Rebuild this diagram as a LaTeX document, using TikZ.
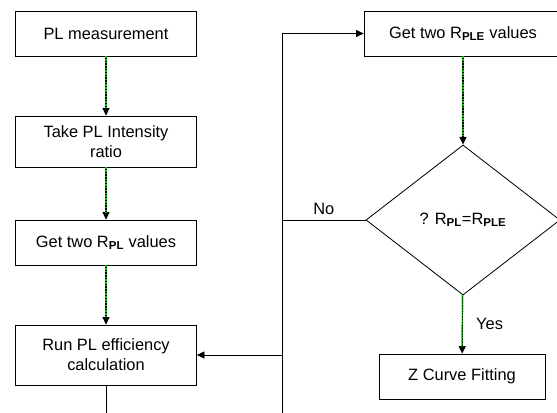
\documentclass[tikz,border=0pt]{standalone}
\usepackage{fontspec}
\setmainfont{Liberation Sans}
\usetikzlibrary{arrows.meta,shapes.geometric}
\newcommand{\Rsub}[1]{R\textsubscript{\textbf{#1}}}

\begin{document}
\begin{tikzpicture}[line cap=butt,line join=miter,x=0.03cm,y=-0.03cm,
  font=\fontsize{14}{17}\selectfont,
  >={Triangle[length=6.5pt,width=6pt]},
  stepbox/.style={draw,line width=0.6pt,align=center,inner sep=2pt},
  flow/.style={->,draw=black,line width=1pt,
    postaction={draw=green!75!black,line width=1pt,dash pattern=on 1.2pt off 1.2pt,shorten >=6pt,-}},
  wire/.style={draw=black,line width=0.7pt}]
\useasboundingbox (0,0) rectangle (557,412);
\clip (0,0) rectangle (557,412);
% left column
\node[stepbox,minimum width=5.43cm,minimum height=1.35cm] (meas) at (106,33.5) {PL measurement};
\node[stepbox,minimum width=5.43cm,minimum height=1.53cm] (ratio) at (106,141.5) {Take PL Intensity\\ratio};
\node[stepbox,minimum width=5.43cm,minimum height=1.35cm] (rpl) at (106,242.5) {Get two \Rsub{PL} values};
\node[stepbox,minimum width=5.43cm,minimum height=1.8cm] (run) at (106,355) {Run PL efficiency\\calculation};
% right column
\node[stepbox,minimum width=5.94cm,minimum height=1.35cm] (rple) at (463,33.5) {Get two \Rsub{PLE} values};
\node[draw,diamond,line width=0.7pt,inner sep=0pt,minimum width=5.82cm,minimum height=4.5cm] (same) at (463,220) {? \Rsub{PL}=\Rsub{PLE}};
\node[stepbox,minimum width=4.98cm,minimum height=1.35cm] (zfit) at (462,376.5) {Z Curve Fitting};
\coordinate (runend) at (106,420);
\coordinate (loopend) at (282,420);
\coordinate (nojoin) at (282,220);
\coordinate (backjoin) at (282,355);
% connectors
\draw[flow] (meas) -- (ratio);
\draw[flow] (ratio) -- (rpl);
\draw[flow] (rpl) -- (run);
\draw[flow] (rple) -- (same);
\draw[flow] (same) -- node[right=8pt] {Yes} (zfit);
\draw[wire] (run) -- (runend);
\draw[wire,->] (loopend) |- (rple);
\draw[wire] (same) -- node[midway,above=1pt] {No} (nojoin);
\draw[wire,->] (backjoin) -- (run);
\end{tikzpicture}
\end{document}
